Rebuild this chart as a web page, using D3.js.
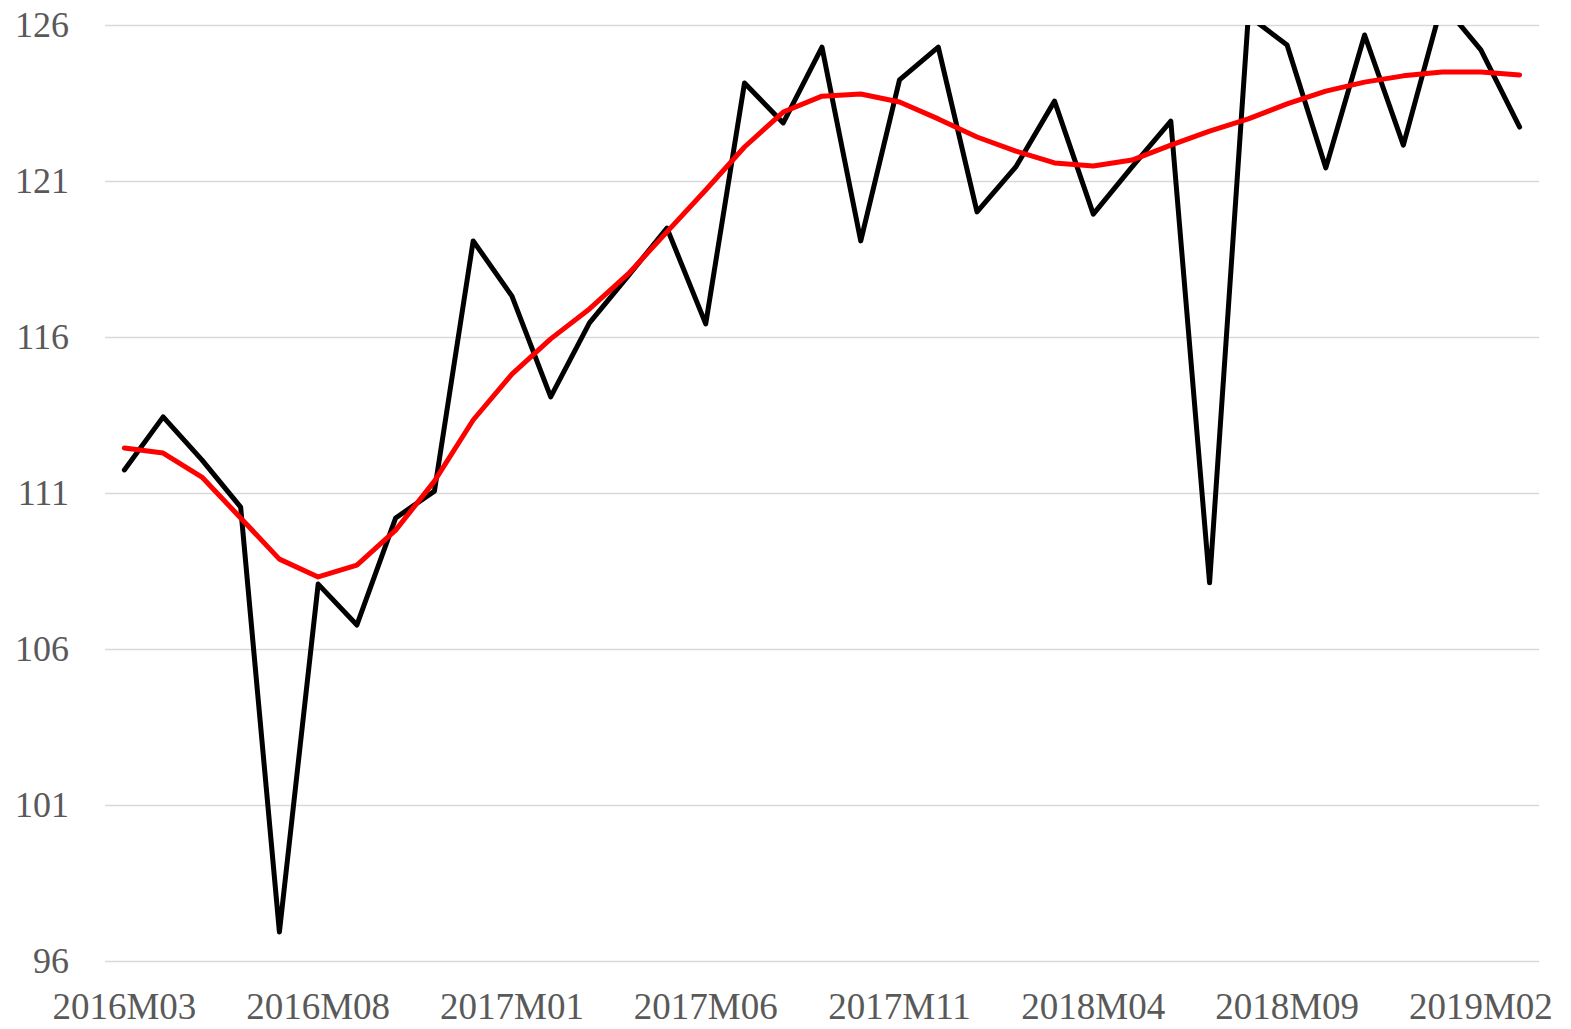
<!DOCTYPE html>
<html>
<head>
<meta charset="utf-8">
<script src="https://cdn.jsdelivr.net/npm/d3@7"></script>
<style>
  html, body { margin: 0; padding: 0; background: #ffffff; }
  svg { display: block; }
  .tick text { font-family: "Liberation Serif", "DejaVu Serif", serif; font-size: 36px; fill: #595959; }
  .x-axis .tick text { font-size: 37px; }
</style>
</head>
<body>
<svg id="chart" width="1571" height="1029"></svg>
<script>
// Monthly periods, 2016M03 .. 2019M03
const months = [
  "2016M03","2016M04","2016M05","2016M06","2016M07","2016M08","2016M09","2016M10","2016M11","2016M12",
  "2017M01","2017M02","2017M03","2017M04","2017M05","2017M06","2017M07","2017M08","2017M09","2017M10",
  "2017M11","2017M12","2018M01","2018M02","2018M03","2018M04","2018M05","2018M06","2018M07","2018M08",
  "2018M09","2018M10","2018M11","2018M12","2019M01","2019M02","2019M03"
];

// Monthly index (black)
const indexValues = [
  111.74, 113.44, 112.06, 110.55, 96.93, 108.08, 106.77, 110.2, 111.06, 119.08,
  117.31, 114.08, 116.45, 117.96, 119.49, 116.42, 124.14, 122.86, 125.29, 119.08,
  124.24, 125.29, 120.01, 121.45, 123.56, 119.94, 121.45, 122.92, 108.12, 126.3,
  125.36, 121.42, 125.68, 122.15, 126.7, 125.2, 122.73
];

// Trend (red)
const trendValues = [
  112.44, 112.28, 111.51, 110.2, 108.88, 108.31, 108.69, 109.81, 111.38, 113.34,
  114.81, 115.94, 116.9, 118.02, 119.37, 120.71, 122.09, 123.21, 123.72, 123.79,
  123.53, 122.99, 122.41, 121.96, 121.58, 121.48, 121.67, 122.15, 122.6, 122.99,
  123.47, 123.88, 124.17, 124.37, 124.49, 124.49, 124.4
];

const yTicks = [96, 101, 106, 111, 116, 121, 126];
const xTickLabels = ["2016M03","2016M08","2017M01","2017M06","2017M11","2018M04","2018M09","2019M02"];

const svg = d3.select("#chart");
const plotLeft = 105, plotRight = 1539, plotTop = 25, plotBottom = 961;

const x = d3.scaleBand().domain(months).range([plotLeft, plotRight]).padding(0);
const cx = m => x(m) + x.bandwidth() / 2;
const y = d3.scaleLinear().domain([96, 126]).range([plotBottom, plotTop]);

// Horizontal gridlines
const grid = svg.append("g").attr("transform", `translate(${plotLeft},0)`)
  .call(d3.axisLeft(y).tickValues(yTicks).tickSize(-(plotRight - plotLeft)).tickFormat(""));
grid.select(".domain").remove();
grid.selectAll(".tick line").attr("stroke", "#d9d9d9").attr("stroke-width", 1.5);

// Y axis labels
const yAxis = svg.append("g").attr("transform", `translate(${plotLeft},0)`)
  .call(d3.axisLeft(y).tickValues(yTicks).tickSize(0).tickPadding(36).tickFormat(d3.format("d")));
yAxis.select(".domain").remove();

// X axis labels
const xAxis = svg.append("g").attr("class", "x-axis").attr("transform", `translate(0,${plotBottom})`)
  .call(d3.axisBottom(x).tickValues(xTickLabels).tickSize(0).tickPadding(32));
xAxis.select(".domain").remove();

// Plot-area clip
svg.append("clipPath").attr("id", "plotClip")
  .append("rect").attr("x", 0).attr("y", plotTop).attr("width", 1571).attr("height", plotBottom - plotTop + 40);

const plot = svg.append("g").attr("clip-path", "url(#plotClip)");

const lineGen = d3.line().x((d, i) => cx(months[i])).y(d => y(d));

plot.append("path")
  .datum(indexValues)
  .attr("d", lineGen)
  .attr("fill", "none")
  .attr("stroke", "#000000")
  .attr("stroke-width", 5)
  .attr("stroke-linejoin", "round")
  .attr("stroke-linecap", "round");

plot.append("path")
  .datum(trendValues)
  .attr("d", lineGen)
  .attr("fill", "none")
  .attr("stroke", "#ff0000")
  .attr("stroke-width", 5)
  .attr("stroke-linejoin", "round")
  .attr("stroke-linecap", "round");
</script>
</body>
</html>
